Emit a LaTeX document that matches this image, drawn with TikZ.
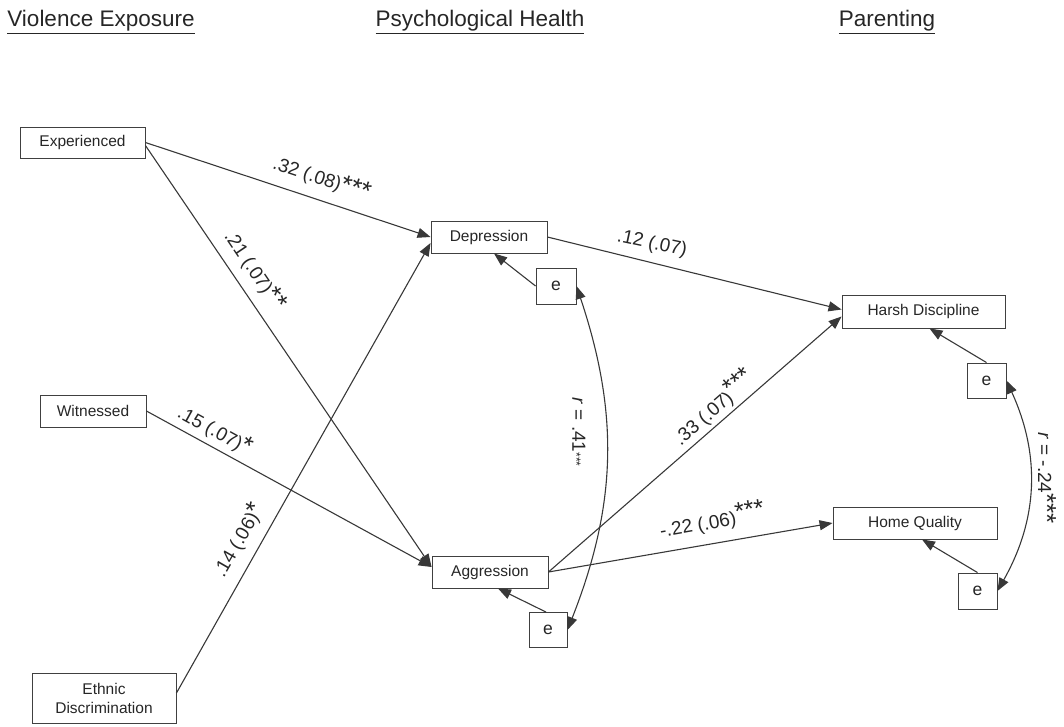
\documentclass[tikz,border=0pt]{standalone}
\usepackage{fontspec}
\setmainfont{Liberation Sans}
\usetikzlibrary{arrows.meta,calc}
\newcommand{\stars}[1]{{\fontsize{26}{26}\selectfont #1}}
\newcommand{\supstars}[1]{\raisebox{4pt}{\fontsize{25}{25}\selectfont #1}}
\begin{document}
\begin{tikzpicture}[x=1pt,y=1pt,
  box/.style={draw=black!75, line width=0.9pt, inner sep=0pt, text=black!85,
    font=\fontsize{15.5}{18}\selectfont},
  ebox/.style={box, font=\fontsize{17.5}{19}\selectfont},
  arr/.style={draw=black!78, line width=1.1pt, -{Triangle[length=13pt,width=10pt]}},
  corr/.style={draw=black!78, line width=1.1pt, {Triangle[length=13pt,width=10pt]}-{Triangle[length=13pt,width=10pt]}},
  lbl/.style={inner sep=0pt, text=black!85, font=\fontsize{19}{21}\selectfont},
  ttl/.style={inner sep=0pt, text=black!85, font=\fontsize{22.5}{25}\selectfont}
]
\useasboundingbox (0,0) rectangle (1064,-726);

% titles
\node[ttl] (t1) at (101,-22) {\underline{Violence Exposure}};
\node[ttl] (t2) at (480,-22) {\underline{Psychological Health}};
\node[ttl] (t3) at (887,-22) {\underline{Parenting}};

% boxes
\node[box, minimum width=125pt, minimum height=31pt] (exp) at (82.5,-142.5) {Experienced};
\node[box, minimum width=106pt, minimum height=32pt] (wit) at (93,-411) {Witnessed};
\node[box, minimum width=144pt, minimum height=50pt, align=center] (eth) at (104,-698) {Ethnic\\[1pt]Discrimination};
\node[box, minimum width=116pt, minimum height=32pt] (dep) at (489,-237) {Depression};
\node[box, minimum width=116pt, minimum height=32pt] (agg) at (490,-572) {Aggression};
\node[box, minimum width=163pt, minimum height=33pt] (harsh) at (923.5,-311.5) {Harsh Discipline};
\node[box, minimum width=164pt, minimum height=32pt] (home) at (915,-523) {Home Quality};

\node[ebox, minimum width=40pt, minimum height=36pt] (ed) at (556,-286) {e};
\node[ebox, minimum width=38pt, minimum height=35pt] (ea) at (548,-630) {e};
\node[ebox, minimum width=39pt, minimum height=35pt] (eh) at (986.5,-380.5) {e};
\node[ebox, minimum width=39pt, minimum height=36pt] (eq) at (977.5,-591) {e};

% paths
\draw[arr] (exp.east) -- (dep.west);
\draw[arr] ([yshift=-3]exp.east) -- ([yshift=5]agg.west);
\draw[arr] (wit.east) -- ([yshift=5]agg.west);
\draw[arr] ([yshift=5]eth.east) -- ([yshift=-6]dep.west);
\draw[arr] (dep.east) -- ([yshift=2]harsh.west);
\draw[arr] (agg.east) -- ([yshift=-5]harsh.west);
\draw[arr] (agg.east) -- (home.west);

% error terms
\draw[arr] (ed.west) -- ([xshift=5]dep.south);
\draw[arr] ([xshift=-2]ea.north) -- ([xshift=8]agg.south);
\draw[arr] (eh.north) -- ([xshift=6]harsh.south);
\draw[arr] (eq.north) -- ([xshift=7]home.south);

% correlations
\draw[corr] (ed.east) to[bend left=20] (ea.east);
\draw[corr] (eh.east) to[bend left=27] (eq.east);

% labels
\node[lbl, rotate=-18.4] (l1) at (322,-178) {.32 (.08)\stars{***}};
\node[lbl, rotate=-56] (l2) at (255,-270) {.21 (.07)\stars{**}};
\node[lbl, rotate=-29] (l3) at (215,-430) {.15 (.07)\stars{*}};
\node[lbl, rotate=60] (l4) at (238,-540) {.14 (.06)\stars{*}};
\node[lbl, rotate=-12] (l5) at (652,-244) {.12 (.07)};
\node[lbl, rotate=41] (l6) at (713,-407) {.33 (.07)\supstars{***}};
\node[lbl, rotate=10] (l7) at (712,-520) {-.22 (.06)\supstars{***}};
\node[lbl, rotate=-90] (l8) at (579,-432) {\textit{r} = .41{\fontsize{12}{12}\selectfont ***}};
\node[lbl, rotate=-90] (l9) at (1047,-478) {\textit{r} = -.24\stars{***}};
\end{tikzpicture}
\end{document}
